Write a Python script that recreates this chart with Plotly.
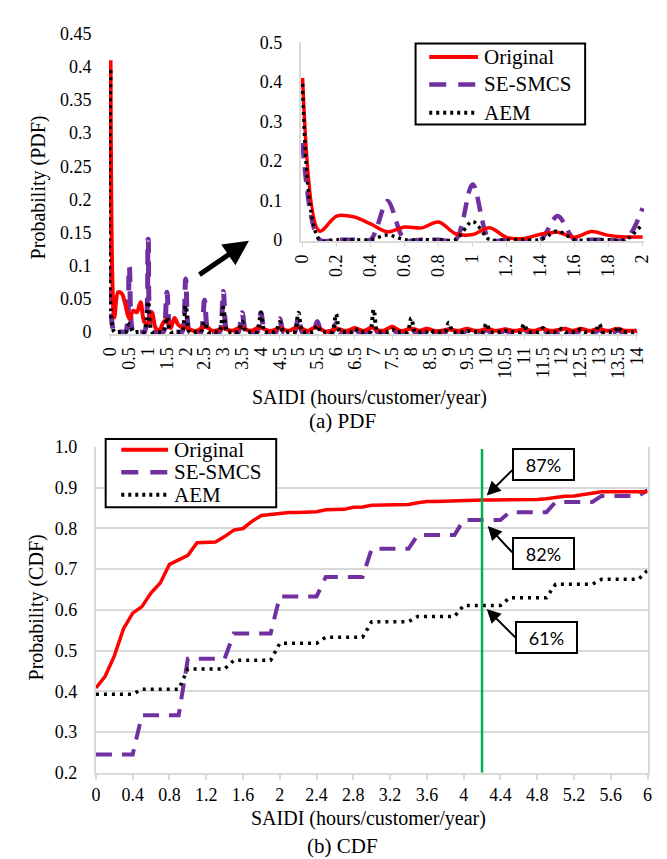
import plotly.graph_objects as go

W, H = 667, 859

# ---------------- data ----------------
# PDF: SAIDI categories 0.0 .. 14.0 (step 0.1)
pdf_x = [round(i * 0.1, 1) for i in range(141)]

pdf_original = [
    0.41, 0.022, 0.06, 0.058, 0.04, 0.02, 0.032, 0.03, 0.045, 0.015,
    0.013, 0.03, 0.006, 0.003, 0.014, 0.019, 0.006, 0.021, 0.011, 0.007,
    0.007, 0.004, 0.002, 0.002, 0.005, 0.008, 0.006, 0.002, 0.002, 0.004,
    0.006, 0.004, 0.002, 0.003, 0.006, 0.007, 0.004, 0.002, 0.003, 0.006,
    0.007, 0.004, 0.002, 0.002, 0.004, 0.006, 0.004, 0.002, 0.003, 0.006,
    0.007, 0.005, 0.002, 0.003, 0.006, 0.007, 0.004, 0.001, 0.001, 0.003,
    0.005, 0.004, 0.002, 0.002, 0.004, 0.006, 0.004, 0.002, 0.003, 0.006,
    0.006, 0.003, 0.002, 0.003, 0.006, 0.008, 0.005, 0.002, 0.002, 0.004,
    0.005, 0.004, 0.002, 0.003, 0.005, 0.004, 0.002, 0.001, 0.002, 0.003,
    0.004, 0.003, 0.002, 0.002, 0.004, 0.005, 0.003, 0.002, 0.002, 0.003,
    0.005, 0.004, 0.002, 0.002, 0.003, 0.004, 0.003, 0.002, 0.002, 0.003,
    0.004, 0.003, 0.002, 0.002, 0.004, 0.005, 0.003, 0.002, 0.002, 0.003,
    0.004, 0.005, 0.003, 0.002, 0.003, 0.005, 0.004, 0.002, 0.002, 0.004,
    0.005, 0.003, 0.002, 0.002, 0.004, 0.005, 0.003, 0.002, 0.002, 0.002,
    0.002,
]

pdf_sesmcs = [
    0.245, 0, 0, 0, 0, 0.098, 0, 0, 0, 0,
    0.14, 0, 0, 0, 0, 0.06, 0, 0, 0, 0,
    0.08, 0, 0, 0, 0, 0.048, 0, 0, 0, 0,
    0.061, 0, 0, 0, 0, 0.029, 0, 0, 0, 0,
    0.029, 0, 0, 0, 0, 0.02, 0, 0, 0, 0,
    0.022, 0, 0, 0, 0, 0.016, 0, 0, 0, 0,
    0.013, 0, 0, 0, 0, 0.009, 0, 0, 0, 0,
    0.011, 0, 0, 0, 0, 0.006, 0, 0, 0, 0,
    0.008, 0, 0, 0, 0, 0.004, 0, 0, 0, 0,
    0.005, 0, 0, 0, 0, 0.003, 0, 0, 0, 0,
    0.004, 0, 0, 0, 0, 0.003, 0, 0, 0, 0,
    0.004, 0, 0, 0, 0, 0.003, 0, 0, 0, 0,
    0.003, 0, 0, 0, 0, 0.002, 0, 0, 0, 0,
    0.004, 0, 0, 0, 0, 0.003, 0, 0, 0, 0,
    0.002,
]

pdf_aem = [
    0.395, 0, 0, 0, 0, 0.012, 0, 0, 0, 0,
    0.046, 0, 0, 0, 0, 0.022, 0, 0, 0, 0,
    0.04, 0, 0, 0, 0, 0.015, 0, 0, 0, 0,
    0.037, 0, 0, 0, 0, 0.016, 0, 0, 0, 0,
    0.029, 0, 0, 0, 0, 0.015, 0, 0, 0, 0,
    0.029, 0, 0, 0, 0, 0.01, 0, 0, 0, 0,
    0.027, 0, 0, 0, 0, 0.005, 0, 0, 0, 0,
    0.034, 0, 0, 0, 0, 0.004, 0, 0, 0, 0,
    0.021, 0, 0, 0, 0, 0.003, 0, 0, 0, 0,
    0.014, 0, 0, 0, 0, 0.002, 0, 0, 0, 0,
    0.013, 0, 0, 0, 0, 0.002, 0, 0, 0, 0,
    0.012, 0, 0, 0, 0, 0.006, 0, 0, 0, 0,
    0.005, 0, 0, 0, 0, 0.004, 0, 0, 0, 0,
    0.012, 0, 0, 0, 0, 0.008, 0, 0, 0, 0,
    0.002,
]

INSET_N = 21  # inset shows SAIDI 0 .. 2

# CDF: SAIDI 0.0 .. 6.0 (step 0.1)
cdf_x = [round(i * 0.1, 1) for i in range(61)]

cdf_original = [
    0.408, 0.437, 0.487, 0.554, 0.592, 0.608, 0.642, 0.666, 0.712, 0.722,
    0.734, 0.765, 0.766, 0.767, 0.78, 0.796, 0.8, 0.818, 0.832, 0.834,
    0.838, 0.839, 0.839, 0.839, 0.841, 0.846, 0.847, 0.847, 0.852, 0.853,
    0.857, 0.857, 0.857, 0.858, 0.859, 0.863, 0.866, 0.866, 0.867, 0.869,
    0.87, 0.87, 0.87, 0.87, 0.87, 0.87, 0.87, 0.87, 0.871, 0.873,
    0.877, 0.879, 0.88, 0.883, 0.887, 0.89, 0.89, 0.89, 0.89, 0.89,
    0.89,
]

cdf_sesmcs = [
    0.245, 0.245, 0.245, 0.245, 0.245, 0.341, 0.341, 0.341, 0.341, 0.341,
    0.48, 0.48, 0.48, 0.48, 0.48, 0.542, 0.542, 0.542, 0.542, 0.542,
    0.633, 0.633, 0.633, 0.633, 0.633, 0.681, 0.681, 0.681, 0.681, 0.681,
    0.75, 0.75, 0.75, 0.75, 0.75, 0.784, 0.784, 0.784, 0.784, 0.784,
    0.821, 0.821, 0.821, 0.821, 0.821, 0.84, 0.84, 0.84, 0.84, 0.84,
    0.865, 0.865, 0.865, 0.865, 0.865, 0.88, 0.88, 0.88, 0.88, 0.88,
    0.894,
]

cdf_aem = [
    0.393, 0.393, 0.393, 0.393, 0.393, 0.405, 0.405, 0.405, 0.405, 0.405,
    0.455, 0.455, 0.455, 0.455, 0.455, 0.476, 0.476, 0.476, 0.476, 0.476,
    0.518, 0.518, 0.518, 0.518, 0.518, 0.533, 0.533, 0.533, 0.533, 0.533,
    0.571, 0.571, 0.571, 0.571, 0.571, 0.584, 0.584, 0.584, 0.584, 0.584,
    0.611, 0.611, 0.611, 0.611, 0.611, 0.63, 0.63, 0.63, 0.63, 0.63,
    0.663, 0.663, 0.663, 0.663, 0.663, 0.675, 0.675, 0.675, 0.675, 0.675,
    0.697,
]

series_names = ["Original", "SE-SMCS", "AEM"]
marker_x = 4.2
callouts = [("87%", 0.87), ("82%", 0.82), ("61%", 0.61)]

# ---------------- styling ----------------
RED = "#ff0000"
PURPLE = "#7030a0"
BLACK = "#000000"
GREEN = "#00b050"
GRID = "#d9d9d9"
CLEAR = "rgba(0,0,0,0)"
SERIF = "Liberation Serif"
SANS = "Lato"

styles = {
    "Original": dict(color=RED, width=4, dash="solid"),
    "SE-SMCS": dict(color=PURPLE, width=5, dash="15px,9px"),
    "AEM": dict(color=BLACK, width=4, dash="3px,4px"),
}


def X(p):
    return p / W


def Y(p):
    return 1 - p / H


fig = go.Figure()

pdf_data = {"Original": pdf_original, "SE-SMCS": pdf_sesmcs, "AEM": pdf_aem}
cdf_data = {"Original": cdf_original, "SE-SMCS": cdf_sesmcs, "AEM": cdf_aem}
draw_order = ["SE-SMCS", "Original", "AEM"]

# main PDF
for name in draw_order:
    s = styles[name]
    fig.add_trace(go.Scatter(
        x=pdf_x, y=pdf_data[name], xaxis="x", yaxis="y", mode="lines",
        line=dict(color=s["color"], width=s["width"], dash=s["dash"],
                  shape="spline", smoothing=0.9),
        showlegend=False, name=name))

# inset PDF 0..2
for name in draw_order:
    s = styles[name]
    fig.add_trace(go.Scatter(
        x=pdf_x[:INSET_N], y=pdf_data[name][:INSET_N], xaxis="x2", yaxis="y2",
        mode="lines",
        line=dict(color=s["color"], width=s["width"] - 0.5, dash=s["dash"],
                  shape="spline", smoothing=0.9),
        showlegend=False, name=name))

# CDF
cdf_styles = {
    "Original": dict(color=RED, width=3.5, dash="solid"),
    "SE-SMCS": dict(color=PURPLE, width=4, dash="16px,10px"),
    "AEM": dict(color=BLACK, width=3.5, dash="3px,5px"),
}
for name in draw_order:
    s = cdf_styles[name]
    fig.add_trace(go.Scatter(
        x=cdf_x, y=cdf_data[name], xaxis="x3", yaxis="y3", mode="lines",
        line=dict(color=s["color"], width=s["width"], dash=s["dash"]),
        showlegend=False, name=name))

tickfont = dict(family=SERIF, size=18, color="black")

layout = dict(
    width=W, height=H,
    margin=dict(l=0, r=0, t=0, b=0),
    paper_bgcolor="white", plot_bgcolor="rgba(0,0,0,0)",
    font=dict(family=SERIF, size=18, color="black"),
    showlegend=False,
    xaxis=dict(domain=[X(94.46), X(637.54)], range=[-0.04, 14.04],
               tick0=0, dtick=0.5, tickangle=-90, tickfont=tickfont,
               showgrid=False, zeroline=False, showline=True,
               linecolor=GRID, linewidth=2, ticks="outside", ticklen=4,
               tickcolor=GRID, anchor="y"),
    yaxis=dict(domain=[Y(323.54), Y(16)], range=[-0.003, 0.45],
               tick0=0, dtick=0.05, tickfont=tickfont, showgrid=False,
               zeroline=False, showline=False, ticks="outside", ticklen=13,
               tickcolor=CLEAR, anchor="x"),
    xaxis2=dict(domain=[X(291.3), X(643.7)], range=[-0.01, 2.01],
                tick0=0, dtick=0.2, tickangle=-90, tickfont=tickfont,
                showgrid=False, zeroline=False, showline=True,
                linecolor=GRID, linewidth=2, ticks="outside", ticklen=4,
                tickcolor=GRID, anchor="y2"),
    yaxis2=dict(domain=[Y(228.6), Y(25)], range=[-0.004, 0.5],
                tick0=0, dtick=0.1, tickfont=tickfont, showgrid=False,
                zeroline=False, showline=True, linecolor=GRID, linewidth=2,
                ticks="outside", ticklen=13, tickcolor=CLEAR, anchor="x2"),
    xaxis3=dict(domain=[X(81), X(647)], range=[0, 6],
                tick0=0, dtick=0.4, tickfont=tickfont, showgrid=False,
                zeroline=False, showline=True, linecolor=GRID, linewidth=2,
                ticks="outside", ticklen=5, tickcolor=GRID, tickwidth=1.5,
                anchor="y3"),
    yaxis3=dict(domain=[Y(772.7), Y(439.3)], range=[0.2, 1.0],
                tick0=0.2, dtick=0.1, tickformat=".1f", tickfont=tickfont,
                showgrid=True, gridcolor=GRID, gridwidth=2, zeroline=False,
                showline=True, mirror=True, linecolor=GRID, linewidth=2,
                ticks="outside", ticklen=13, tickcolor=CLEAR, anchor="x3"),
)
fig.update_layout(**layout)

shapes = []
annotations = []

# green marker line on CDF
shapes.append(dict(type="line", xref="x3", yref="y3", x0=marker_x, x1=marker_x,
                   y0=0.2, y1=0.995, line=dict(color=GREEN, width=2.5)))


def legend_box(x0, y0, x1, y1, line_x0, line_x1, text_x, ys, stl):
    shapes.append(dict(type="rect", xref="paper", yref="paper",
                       x0=X(x0), x1=X(x1), y0=Y(y1), y1=Y(y0),
                       line=dict(color="black", width=2), fillcolor="white",
                       layer="above"))
    for name, yy in zip(series_names, ys):
        s = stl[name]
        shapes.append(dict(type="line", xref="paper", yref="paper",
                           x0=X(line_x0), x1=X(line_x1), y0=Y(yy), y1=Y(yy),
                           line=dict(color=s["color"], width=s["width"],
                                     dash=s["dash"]), layer="above"))
        annotations.append(dict(xref="paper", yref="paper", x=X(text_x), y=Y(yy),
                                text=name, showarrow=False, xanchor="left",
                                yanchor="middle",
                                font=dict(family=SERIF, size=21, color="black")))


leg_style = {
    "Original": dict(color=RED, width=4, dash="solid"),
    "SE-SMCS": dict(color=PURPLE, width=4.5, dash="17px,12px"),
    "AEM": dict(color=BLACK, width=4, dash="3px,4px"),
}
legend_box(409, 26, 583, 109, 423, 473, 477, [40, 68, 97], leg_style)
legend_box(91, 431, 266, 501, 107, 155, 159, [442, 465, 488], leg_style)

# big arrow pointing to inset
annotations.append(dict(xref="paper", yref="paper", x=X(238), y=Y(228), text="",
                        showarrow=True, ax=-51, ay=35, arrowhead=2, arrowsize=1,
                        arrowwidth=5, arrowcolor="black"))

# callout boxes on CDF
box_centres = [(540.5, 457.5), (540.5, 548.5), (543.5, 634)]
arrow_geo = [((482, 489), (27, -27)), ((483, 520), (26, 28)), ((482, 605), (30, 30))]
for (label, val), (cx, cy), ((hx, hy), (ax, ay)) in zip(callouts, box_centres, arrow_geo):
    annotations.append(dict(xref="paper", yref="paper", x=X(cx), y=Y(cy),
                            text=label, showarrow=False, xanchor="center",
                            yanchor="middle", width=57, height=27,
                            bordercolor="black", borderwidth=2, borderpad=1,
                            bgcolor="white",
                            font=dict(family=SANS, size=18, color="black")))
    annotations.append(dict(xref="paper", yref="paper", x=X(hx), y=Y(hy), text="",
                            showarrow=True, ax=ax, ay=ay, arrowhead=2,
                            arrowsize=1.4, arrowwidth=2, arrowcolor="black"))

# titles
title_font = dict(family=SERIF, size=20, color="black")
annotations += [
    dict(xref="paper", yref="paper", x=X(362), y=Y(389),
         text="SAIDI (hours/customer/year)", showarrow=False, font=title_font,
         xanchor="center", yanchor="middle"),
    dict(xref="paper", yref="paper", x=X(334), y=Y(413), text="(a) PDF",
         showarrow=False, font=dict(family=SERIF, size=21, color="black"),
         xanchor="center", yanchor="middle"),
    dict(xref="paper", yref="paper", x=X(23), y=Y(173), text="Probability (PDF)",
         showarrow=False, font=title_font, textangle=-90,
         xanchor="center", yanchor="middle"),
    dict(xref="paper", yref="paper", x=X(361), y=Y(820),
         text="SAIDI (hours/customer/year)", showarrow=False, font=title_font,
         xanchor="center", yanchor="middle"),
    dict(xref="paper", yref="paper", x=X(334), y=Y(848), text="(b) CDF",
         showarrow=False, font=dict(family=SERIF, size=21, color="black"),
         xanchor="center", yanchor="middle"),
    dict(xref="paper", yref="paper", x=X(20), y=Y(603), text="Probability (CDF)",
         showarrow=False, font=title_font, textangle=-90,
         xanchor="center", yanchor="middle"),
]

fig.update_layout(shapes=shapes, annotations=annotations)
fig.write_html("out.html")
